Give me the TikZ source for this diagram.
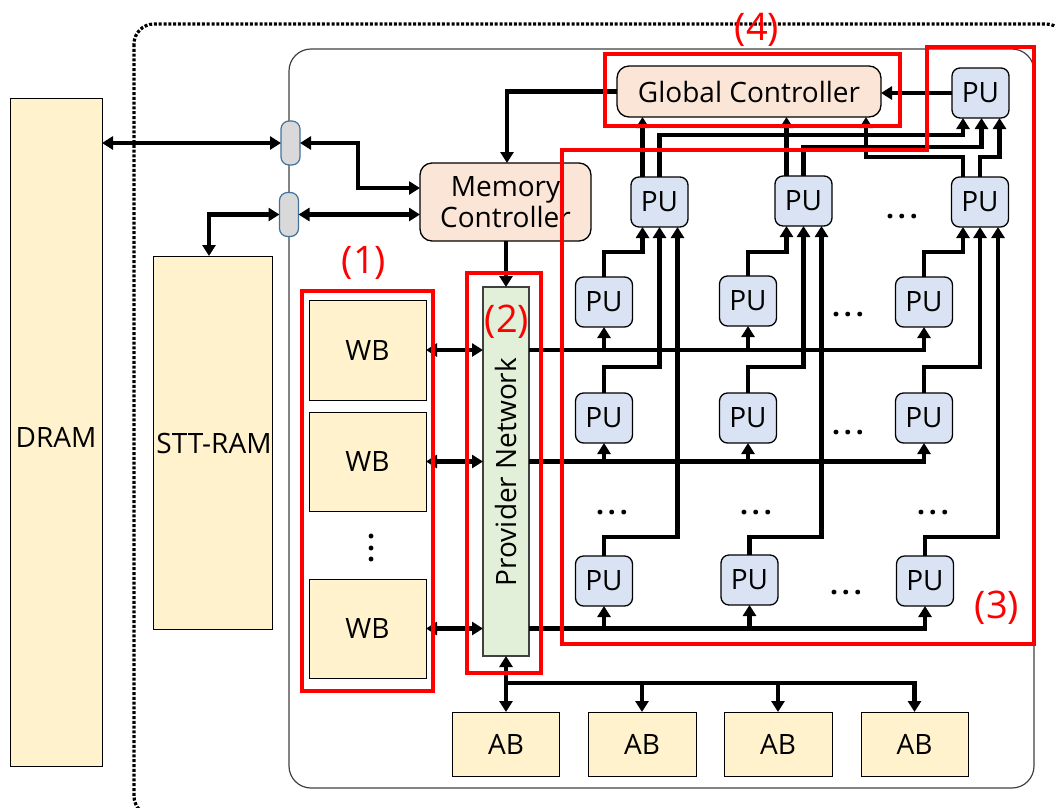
\documentclass[tikz,border=0pt]{standalone}
\usepackage{fontspec}
\setmainfont{Open Sans}
\usetikzlibrary{arrows.meta,calc}
\definecolor{cream}{HTML}{FFF2CC}
\definecolor{peach}{HTML}{FBE5D6}
\definecolor{puBlue}{HTML}{DAE3F3}
\definecolor{pnGreen}{HTML}{E2F0D9}
\definecolor{portGray}{HTML}{D9D9D9}
\definecolor{portEdge}{HTML}{41719C}
\definecolor{frameGray}{HTML}{404040}
\definecolor{hlRed}{HTML}{FF0000}
\newcommand{\hdd}{\textbf{.\kern4pt.\kern4pt.}}
\begin{document}
\begin{tikzpicture}[x=1pt,y=-1pt,
  every node/.style={inner sep=0pt, outer sep=0pt, font=\fontsize{28}{31}\selectfont},
  membox/.style={draw=black, line width=1pt, fill=cream},
  pubox/.style={draw=black, line width=1.3pt, fill=puBlue, rounded corners=8pt, minimum width=57pt, minimum height=50pt},
  ctrl/.style={draw=black, line width=1.3pt, fill=peach, rounded corners=12pt},
  port/.style={draw=portEdge, line width=1.2pt, fill=portGray, rounded corners=8pt, minimum width=19pt, minimum height=44pt},
  hl/.style={draw=hlRed, line width=3.8pt},
  hltext/.style={text=hlRed, font=\fontsize{38}{40}\selectfont},
  wire/.style={line width=4.2pt},
  arr/.style={wire, -{Triangle[width=13pt,length=11pt]}},
  darr/.style={wire, {Triangle[width=13pt,length=11pt]}-{Triangle[width=13pt,length=11pt]}},
  dotsnode/.style={font=\fontsize{28}{30}\selectfont}
]
\useasboundingbox (0,0) rectangle (1055,807);

% outer dotted frame and inner frame
\draw[line width=3.2pt, dash pattern=on 3pt off 1.8pt, rounded corners=20pt] (134,24) rectangle (1066,816);
\draw[frameGray, line width=1.2pt, rounded corners=22pt] (289,49) rectangle (1034,788);

% memories
\node[membox, minimum width=92pt, minimum height=668pt] (dram) at (56,432) {};
\node at (56,437) {DRAM};
\node[membox, minimum width=119pt, minimum height=373pt] (stt) at (212.5,442.5) {};
\node at (214,443) {STT-RAM};

% ports
\node[port] (up) at (290.5,143) {};
\node[port] (lo) at (289,214.5) {};

% controllers
\node[ctrl, minimum width=171pt, minimum height=78pt, align=center] (mc) at (505.5,202) {Memory\\Controller};
\node[ctrl, minimum width=264pt, minimum height=51pt] (gc) at (749,91.5) {Global Controller};

% provider network
\node[draw=frameGray, line width=1.2pt, fill=pnGreen, minimum width=46pt, minimum height=369pt] (pn) at (506,471.5) {};
\node[rotate=90] at (506,472) {Provider Network};

% weight buffers
\node[membox, minimum width=117pt, minimum height=100pt] (wb1) at (367.5,350) {WB};
\node[membox, minimum width=117pt, minimum height=99pt] (wb2) at (367.5,461.5) {WB};
\node[membox, minimum width=117pt, minimum height=99pt] (wb3) at (367.5,628.5) {WB};
\node[dotsnode, rotate=90] (wbdots) at (372,548) {\hdd};

% activation buffers
\node[membox, minimum width=107pt, minimum height=64pt] (ab1) at (506,744) {AB};
\node[membox, minimum width=108pt, minimum height=64pt] (ab2) at (642,744) {AB};
\node[membox, minimum width=108pt, minimum height=64pt] (ab3) at (778,744) {AB};
\node[membox, minimum width=107pt, minimum height=64pt] (ab4) at (914.5,744) {AB};

% PUs
\node[pubox] (p0) at (980.5,93) {PU};
\node[pubox] (p11) at (659.5,202) {PU};
\node[pubox] (p12) at (803.5,201) {PU};
\node[pubox] (p13) at (980,202) {PU};
\node[pubox] (p21) at (604,302) {PU};
\node[pubox] (p22) at (748,301) {PU};
\node[pubox] (p23) at (924,302) {PU};
\node[pubox] (p31) at (604,418) {PU};
\node[pubox] (p32) at (748,418) {PU};
\node[pubox] (p33) at (924,418) {PU};
\node[pubox] (p41) at (604,581) {PU};
\node[pubox] (p42) at (749.5,580) {PU};
\node[pubox] (p43) at (925,581) {PU};

% dots
\node[dotsnode] (d1) at (902,217) {\hdd};
\node[dotsnode] (d2) at (848,315) {\hdd};
\node[dotsnode] (d3) at (848,433) {\hdd};
\node[dotsnode] (d4) at (612,513) {\hdd};
\node[dotsnode] (d5) at (756,513) {\hdd};
\node[dotsnode] (d6) at (933,513) {\hdd};
\node[dotsnode] (d7) at (846,593) {\hdd};

% helper coordinates
\foreach \c in {1,2,3}{
  \coordinate (ia\c) at ([xshift=-17pt]p1\c.south);
  \coordinate (ib\c) at (p1\c.south);
  \coordinate (ic\c) at ([xshift=18pt]p1\c.south);
  \coordinate (oa\c) at ([xshift=-17pt]p1\c.north);
  \coordinate (ob\c) at (p1\c.north);
}
\coordinate (r0a) at ([xshift=-17.5pt]p0.south);
\coordinate (r0b) at ([xshift=1pt]p0.south);
\coordinate (r0c) at ([xshift=19pt]p0.south);
\coordinate (g3) at ([xshift=117pt]gc.south);
\coordinate (bus) at (506,683);

% memory side connectors
\draw[darr] (dram.east |- up.west) -- (up.west);
\draw[darr] (up.east) -| (358,188) -- (mc.west |- 358,188);
\draw[darr] (lo.east) -- (mc.west |- lo.east);
\draw[darr] (lo.west) -| ([xshift=-3.5pt]stt.north);
\draw[arr] (gc.west) -| ([xshift=1.5pt]mc.north);
\draw[arr] (mc.south -| pn.north) -- (pn.north);

% WB <-> PN
\draw[darr] (wb1.east) -- (pn.west |- wb1.east);
\draw[darr] (wb2.east) -- (pn.west |- wb2.east);
\draw[darr] (wb3.east) -- (pn.west |- wb3.east);

% PN <-> AB
\draw[darr] (pn.south) -- (ab1.north);
\draw[arr] (bus) -| (ab4.north);
\draw[arr] (ab2.north |- bus) -- (ab2.north);
\draw[arr] (ab3.north |- bus) -- (ab3.north);

% PN -> PU rows
\draw[arr] (pn.east |- wb1.east) -| (p23.south);
\draw[arr] (p21.south |- wb1.east) -- (p21.south);
\draw[arr] (p22.south |- wb1.east) -- (p22.south);
\draw[arr] (pn.east |- wb2.east) -| (p33.south);
\draw[arr] (p31.south |- wb2.east) -- (p31.south);
\draw[arr] (p32.south |- wb2.east) -- (p32.south);
\draw[arr] (pn.east |- wb3.east) -| (p43.south);
\draw[arr] (p41.south |- wb3.east) -- (p41.south);
\draw[arr] (p42.south |- wb3.east) -- (p42.south);

% lower rows -> row 1
\draw[arr] (p21.north) -- (p21.north |- 0,252) -| (ia1);
\draw[arr] (p22.north) -- (p22.north |- 0,252) -| (ia2);
\draw[arr] (p23.north) -- (p23.north |- 0,252) -| (ia3);
\draw[arr] (p31.north) -- (p31.north |- 0,367) -| (ib1);
\draw[arr] (p32.north) -- (p32.north |- 0,367) -| (ib2);
\draw[arr] (p33.north) -- (p33.north |- 0,367) -| (ib3);
\draw[arr] (p41.north) -- (p41.north |- 0,537) -| (ic1);
\draw[arr] (p42.north) -- (p42.north |- 0,537) -| (ic2);
\draw[arr] (p43.north) -- (p43.north |- 0,537) -| (ic3);

% row 1 -> global controller / top PU
\draw[arr] (oa1) -- (oa1 |- gc.south);
\draw[arr] (ob1) -- (ob1 |- 0,135) -| (r0a);
\draw[arr] (oa2) -- (oa2 |- gc.south);
\draw[arr] (ob2) -- (ob2 |- 0,147) -| (r0b);
\draw[arr] (oa3) -- (oa3 |- 0,157) -| (g3);
\draw[arr] (ob3) -- (ob3 |- 0,157) -| (r0c);
\draw[arr] (p0.west) -- (gc.east |- p0.west);

% highlight boxes
\draw[hl] (302,291) rectangle (433,691);
\draw[hl] (467,273) rectangle (541,673);
\draw[hl] (605,54) rectangle (900,126);
\draw[hl] (562,150) -- (927,150) -- (927,47) -- (1034,47) -- (1034,644) -- (562,644) -- cycle;
\node[hltext] (l1) at (364,263) {(1)};
\node[hltext] (l2) at (507,322) {(2)};
\node[hltext] (l3) at (997,608) {(3)};
\node[hltext] (l4) at (757,30) {(4)};
\end{tikzpicture}
\end{document}
